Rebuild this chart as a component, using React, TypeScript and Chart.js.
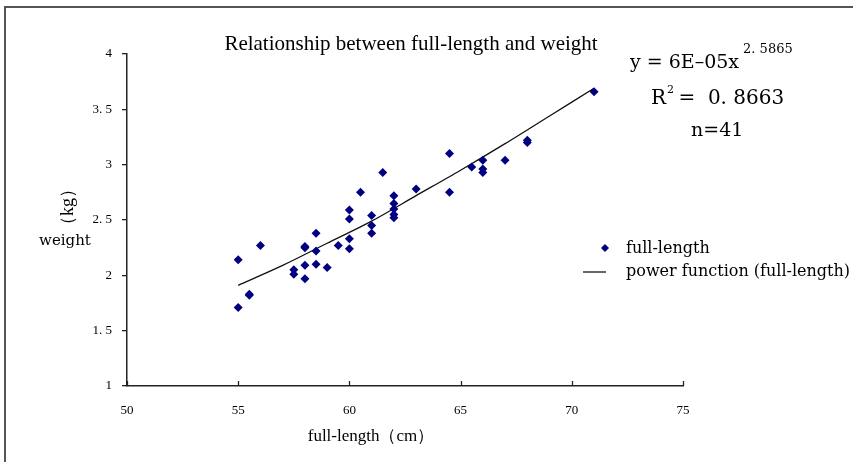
import React, { useEffect, useRef } from "react";
import { Chart, registerables } from "chart.js";

Chart.register(...registerables);

const fullLength = [55, 55, 55.5, 55.5, 56, 57.5, 57.5, 58, 58, 58, 58, 58.5, 58.5, 58.5, 59, 59.5, 60, 60, 60, 60, 60.5, 61, 61, 61, 61.5, 62, 62, 62, 62, 62, 63, 64.5, 64.5, 65.5, 66, 66, 66, 67, 68, 68, 71];
const weight = [2.14, 1.71, 1.82, 1.83, 2.27, 2.05, 2.01, 2.25, 2.26, 2.09, 1.97, 2.38, 2.22, 2.1, 2.07, 2.27, 2.59, 2.51, 2.33, 2.24, 2.75, 2.54, 2.45, 2.38, 2.93, 2.72, 2.65, 2.6, 2.55, 2.52, 2.78, 3.1, 2.75, 2.98, 3.04, 2.96, 2.93, 3.04, 3.22, 3.2, 3.66];
const trendX = [55, 57, 59, 61, 63, 65, 67, 69, 71];
const trendY = [1.91, 2.09, 2.29, 2.49, 2.72, 2.95, 3.19, 3.44, 3.69];
const xTicks = [50, 55, 60, 65, 70, 75];
const yTickLabels: Record<string, string> = { "1": "1", "1.5": "1. 5", "2": "2", "2.5": "2. 5", "3": "3", "3.5": "3. 5", "4": "4" };

const titleText = "Relationship between full-length and weight";
const xTitle = "full-length（cm）";
const yTitleA = "weight";
const yTitleB = "（kg）";
const seriesName = "full-length";
const trendName = "power function (full-length)";

const SERIF = '"Liberation Serif", "DejaVu Serif", serif';
const WIDE = '"DejaVu Serif", "Liberation Serif", serif';

const decorPlugin = {
  id: "decor",
  afterDraw(chart: any) {
    const ctx = chart.ctx as CanvasRenderingContext2D;
    const { bottom } = chart.chartArea;
    const xs = chart.scales.x;
    ctx.save();
    // frame
    ctx.strokeStyle = "#555";
    ctx.lineWidth = 2;
    ctx.beginPath();
    ctx.moveTo(5, 462);
    ctx.lineTo(5, 7);
    ctx.lineTo(853, 7);
    ctx.stroke();
    // x ticks pointing inward
    ctx.strokeStyle = "#222";
    ctx.lineWidth = 1.3;
    for (const v of xTicks) {
      const px = Math.round(xs.getPixelForValue(v)) + 0.5;
      ctx.beginPath();
      ctx.moveTo(px, bottom);
      ctx.lineTo(px, bottom - 5);
      ctx.stroke();
    }
    // title
    ctx.fillStyle = "#000";
    ctx.textAlign = "center";
    ctx.textBaseline = "middle";
    ctx.font = `21px ${SERIF}`;
    ctx.fillText(titleText, 411, 44);
    // x title
    ctx.font = `17px ${SERIF}`;
    ctx.fillText(xTitle, 371, 437);
    // y title
    ctx.font = `15px ${WIDE}`;
    ctx.fillText(yTitleA, 65, 241);
    ctx.save();
    ctx.translate(68, 207);
    ctx.rotate(-Math.PI / 2);
    ctx.font = `18px ${SERIF}`;
    ctx.fillText(yTitleB, 0, 0);
    ctx.restore();
    // equation
    ctx.textAlign = "left";
    ctx.font = `19px ${WIDE}`;
    const eq = "y = 6E\u201305x";
    ctx.fillText(eq, 630, 63);
    const eqW = ctx.measureText(eq).width;
    ctx.font = `13px ${WIDE}`;
    ctx.fillText("2. 5865", 630 + eqW + 4, 50);
    ctx.font = `20px ${WIDE}`;
    ctx.fillText("R", 651, 99);
    const rW = ctx.measureText("R").width;
    ctx.font = `11px ${WIDE}`;
    ctx.fillText("2", 651 + rW + 1, 90);
    ctx.font = `20px ${WIDE}`;
    ctx.fillText(" =  0. 8663", 651 + rW + 6, 99);
    ctx.font = `19px ${WIDE}`;
    ctx.fillText("n=41", 691, 131);
    // legend
    ctx.font = `16px ${WIDE}`;
    ctx.fillText(seriesName, 626, 249);
    ctx.fillText(trendName, 626, 272);
    ctx.fillStyle = "#000080";
    ctx.beginPath();
    ctx.moveTo(605, 244);
    ctx.lineTo(609, 248);
    ctx.lineTo(605, 252);
    ctx.lineTo(601, 248);
    ctx.closePath();
    ctx.fill();
    ctx.strokeStyle = "#000";
    ctx.lineWidth = 1.2;
    ctx.beginPath();
    ctx.moveTo(583, 272);
    ctx.lineTo(606, 272);
    ctx.stroke();
    ctx.restore();
  },
};

export default function App() {
  const ref = useRef<HTMLCanvasElement>(null);
  useEffect(() => {
    if (!ref.current) return;
    const chart = new Chart(ref.current, {
      type: "scatter",
      data: {
        datasets: [
          {
            label: seriesName,
            data: fullLength.map((x, i) => ({ x, y: weight[i] })),
            pointStyle: "rectRot",
            pointRadius: 4.5,
            pointBackgroundColor: "#000080",
            pointBorderColor: "#000080",
            pointBorderWidth: 0,
            showLine: false,
          },
          {
            label: trendName,
            type: "line",
            data: trendX.map((x, i) => ({ x, y: trendY[i] })),
            borderColor: "#111",
            borderWidth: 1.3,
            pointRadius: 0,
            fill: false,
            tension: 0.3,
          } as any,
        ],
      },
      options: {
        animation: false,
        responsive: false,
        devicePixelRatio: 1,
        layout: { padding: { left: 0, top: 54, right: 170, bottom: 0 } },
        plugins: { legend: { display: false }, title: { display: false }, tooltip: { enabled: false } },
        scales: {
          x: {
            type: "linear",
            min: 50,
            max: 75,
            afterBuildTicks: (s: any) => { s.ticks = xTicks.map((v) => ({ value: v })); },
            afterFit: (s: any) => { s.height = 76; },
            grid: { display: true, drawOnChartArea: false, drawTicks: false },
            border: { display: true, color: "#222", width: 1.5 },
            ticks: { padding: 17, color: "#000", font: { family: SERIF, size: 13 }, maxRotation: 0 },
          },
          y: {
            type: "linear",
            min: 1,
            max: 4,
            ticks: {
              stepSize: 0.5,
              padding: 10,
              color: "#000",
              font: { family: SERIF, size: 13 },
              callback: (v: any) => yTickLabels[String(v)] ?? String(v),
            },
            afterFit: (s: any) => { s.width = 127; },
            grid: { display: true, drawOnChartArea: false, drawTicks: true, tickLength: 5, color: "#222", lineWidth: 1.3 },
            border: { display: true, color: "#222", width: 1.5 },
          },
        },
      },
      plugins: [decorPlugin],
    });
    return () => chart.destroy();
  }, []);
  return (
    <div style={{ position: "fixed", left: 0, top: 0, width: 853, height: 462, background: "#fff" }}>
      <canvas ref={ref} width={853} height={462} style={{ width: 853, height: 462, display: "block" }} />
    </div>
  );
}
